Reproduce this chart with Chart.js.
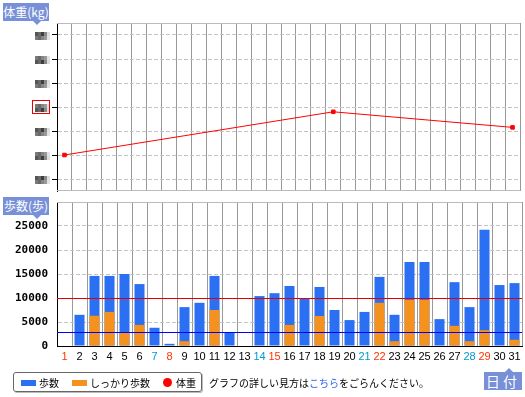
<!DOCTYPE html>
<html>
<head>
<meta charset="utf-8">
<script src="https://cdn.jsdelivr.net/npm/chart.js@4.4.0/dist/chart.umd.min.js"></script>
<style>
  body { margin: 0; width: 525px; height: 397px; overflow: hidden; position: relative; background: #fff;
         font-family: "Noto Sans CJK JP", sans-serif; }
  canvas { position: absolute; left: 0; }
  #weightChart { top: 0; }
  #stepsChart { top: 190px; }
  .tag { position: absolute; background: #7890d8; color: #fff; font-size: 12px; line-height: 18px; height: 18px;
         text-align: center; z-index: 2; }
  .tag:after { content: ""; position: absolute; border-left: 4px solid transparent; border-right: 4px solid transparent; }
  .tag.down:after { top: 18px; left: 30px; border-top: 4px solid #7890d8; }
  .tag.up:after { top: -4px; left: 21px; border-bottom: 4px solid #7890d8; }
  .legend { position: absolute; left: 13px; top: 372px; width: 187px; height: 18px; border: 1px solid #666;
            border-radius: 3px; box-shadow: 1px 1px 0 #bbb; }
  .sw { position: absolute; top: 380px; width: 15px; height: 6px; }
  .dot { position: absolute; left: 163px; top: 378px; width: 9px; height: 9px; border-radius: 50%; background: #f00; }
  .txt { position: absolute; top: 376px; font-size: 10px; line-height: 14px; color: #000; white-space: nowrap; }
</style>
</head>
<body>
<canvas id="weightChart" width="525" height="196"></canvas>
<canvas id="stepsChart" width="525" height="180"></canvas>

<div class="tag down" style="left:3px;top:3px;width:46px;">体重(kg)</div>
<div class="tag down" style="left:3px;top:197px;width:46px;">歩数(歩)</div>
<div class="tag up" style="left:484px;top:372px;width:38px;font-size:14px;letter-spacing:3px;">日付</div>

<div class="legend"></div>
<div class="sw" style="left:21px;background:#2b6ff2;"></div>
<div class="txt" style="left:39px;">歩数</div>
<div class="sw" style="left:72px;background:#f5921e;"></div>
<div class="txt" style="left:90px;">しっかり歩数</div>
<div class="dot"></div>
<div class="txt" style="left:176px;">体重</div>
<div class="txt" style="left:209px;">グラフの詳しい見方は<span style="color:#3366ee;">こちら</span>をごらんください。</div>

<script>
// 日付
var days = ["1", "2", "3", "4", "5", "6", "7", "8", "9", "10", "11", "12", "13", "14", "15", "16",
            "17", "18", "19", "20", "21", "22", "23", "24", "25", "26", "27", "28", "29", "30", "31"];
var sundays = [1, 8, 15, 22, 29];
var saturdays = [7, 14, 21, 28];

// 歩数 / しっかり歩数
var steps = [0, 6500, 14600, 14600, 15000, 12900, 3800, 450, 8100, 9000, 14600, 2900, 0, 10400, 11000, 12500,
             9800, 12300, 7500, 5400, 7100, 14400, 6500, 17500, 17500, 5600, 13300, 8100, 24200, 12700, 13100];
var brisk = [0, 0, 6300, 7100, 2900, 4400, 0, 0, 1000, 0, 7500, 0, 0, 0, 0, 4400,
             0, 6250, 0, 0, 0, 9000, 1000, 9600, 9600, 0, 4200, 1000, 3300, 0, 1300];
var stepTicks = [0, 5000, 10000, 15000, 20000, 25000];
var stepGoal = 10000;
var briskGoal = 2900;

// 体重 (値はぼかされているので目安)
var weight = [66.0, null, null, null, null, null, null, null, null, null, null, null, null, null, null, null,
              null, null, 67.8, null, null, null, null, null, null, null, null, null, null, null, 67.15];
var weightTicks = [65, 66, 67, 68, 69, 70, 71];
var targetWeight = 68;

Chart.defaults.font.family = "'Liberation Sans', sans-serif";

// 軸の幅を固定
function fixWidth(s) {
  s.width = 57;
  s.paddingTop = 0;
  s.paddingBottom = 0;
}

var frameLines = {
  id: "frameLines",
  beforeDatasetsDraw: function (chart, args, opts) {
    var a = chart.chartArea, ctx = chart.ctx;
    ctx.save();
    ctx.strokeStyle = "#bbb";
    ctx.lineWidth = 1;
    ctx.beginPath();
    ctx.moveTo(a.left, Math.round(a.top) + 0.5);
    ctx.lineTo(a.right, Math.round(a.top) + 0.5);
    if (opts.bottom) {
      ctx.moveTo(a.left, Math.round(a.bottom) - 0.5);
      ctx.lineTo(a.right, Math.round(a.bottom) - 0.5);
    }
    ctx.stroke();
    ctx.restore();
  }
};

// ぼかしたラベル
var mosaic = {
  id: "mosaic",
  afterDraw: function (chart) {
    var ctx = chart.ctx, y = chart.scales.y;
    var shades = [["#555", "#6a6a6a", "#3e3e3e", "#8a8a8a", "#ddd"],
                  ["#7a7a7a", "#686868", "#858585", "#999", "#e2e2e2"]];
    ctx.save();
    weightTicks.forEach(function (v, i) {
      var py = Math.round(y.getPixelForValue(v));
      for (var r = 0; r < 2; r++) {
        for (var c = 0; c < 5; c++) {
          ctx.fillStyle = shades[(r + i) % 2][c];
          ctx.fillRect(35 + c * 3, py - 3 + r * 4, 3, 4);
        }
      }
      if (v === targetWeight) {
        ctx.strokeStyle = "#e00";
        ctx.lineWidth = 1;
        ctx.strokeRect(32.5, py - 6.5, 17, 13);
      }
    });
    ctx.restore();
  }
};

var goalLines = {
  id: "goalLines",
  afterDatasetsDraw: function (chart) {
    var a = chart.chartArea, ctx = chart.ctx, y = chart.scales.y;
    ctx.save();
    ctx.lineWidth = 1;
    [[stepGoal, "#e00000"], [briskGoal, "#0000ff"]].forEach(function (g) {
      var py = Math.round(y.getPixelForValue(g[0])) + 0.5;
      ctx.strokeStyle = g[1];
      ctx.beginPath();
      ctx.moveTo(a.left, py);
      ctx.lineTo(a.right, py);
      ctx.stroke();
    });
    ctx.restore();
  }
};

new Chart(document.getElementById("weightChart"), {
  type: "line",
  data: {
    labels: days,
    datasets: [{
      label: "体重",
      data: weight,
      borderColor: "#f00",
      backgroundColor: "#f00",
      borderWidth: 1,
      pointStyle: "rect",
      pointRadius: 2.5,
      spanGaps: true,
      tension: 0
    }]
  },
  options: {
    responsive: false,
    animation: false,
    layout: { padding: { top: 23, right: 3, bottom: 5, left: 0 } },
    plugins: { legend: { display: false }, tooltip: { enabled: false }, frameLines: { bottom: true } },
    scales: {
      x: {
        offset: true,
        grid: { offset: true, color: "#999", drawTicks: false },
        border: { display: false },
        ticks: { display: false },
        afterFit: function (s) { s.height = 0; }
      },
      y: {
        min: 64.5,
        max: 71.5,
        afterBuildTicks: function (s) { s.ticks = weightTicks.map(function (v) { return { value: v }; }); },
        grid: { color: "#c4c4c4", tickColor: "#000", tickLength: 5 },
        border: { color: "#000", dash: [4, 2] },
        ticks: { display: false },
        afterFit: fixWidth
      }
    }
  },
  plugins: [frameLines, mosaic]
});

new Chart(document.getElementById("stepsChart"), {
  type: "bar",
  data: {
    labels: days,
    datasets: [
      { label: "しっかり歩数", data: brisk, backgroundColor: "#f5921e", order: 0, grouped: false,
        barPercentage: 0.667, categoryPercentage: 1 },
      { label: "歩数", data: steps, backgroundColor: "#2b6ff2", order: 1, grouped: false,
        barPercentage: 0.667, categoryPercentage: 1 }
    ]
  },
  options: {
    responsive: false,
    animation: false,
    layout: { padding: { top: 12, right: 3, bottom: 4, left: 0 } },
    plugins: { legend: { display: false }, tooltip: { enabled: false }, frameLines: { bottom: false } },
    scales: {
      x: {
        grid: { offset: true, color: "#999", drawTicks: false },
        border: { color: "#000" },
        ticks: {
          autoSkip: false,
          maxRotation: 0,
          padding: 4,
          font: { size: 11 },
          color: function (c) {
            var d = c.index + 1;
            if (sundays.indexOf(d) >= 0) return "#ff3300";
            if (saturdays.indexOf(d) >= 0) return "#0099cc";
            return "#000";
          }
        },
        afterFit: function (s) { s.height = 20; s.paddingLeft = 0; s.paddingRight = 0; }
      },
      y: {
        min: 0,
        max: 30000,
        afterBuildTicks: function (s) { s.ticks = stepTicks.map(function (v) { return { value: v }; }); },
        grid: { color: "#c4c4c4", drawTicks: false },
        border: { color: "#000", dash: [4, 2] },
        ticks: {
          padding: 9,
          color: "#000",
          font: { family: "'DejaVu Sans Mono', monospace", size: 11, weight: "bold" },
          callback: function (v) { return String(v); }
        },
        afterFit: fixWidth
      }
    }
  },
  plugins: [frameLines, goalLines]
});
</script>
</body>
</html>
